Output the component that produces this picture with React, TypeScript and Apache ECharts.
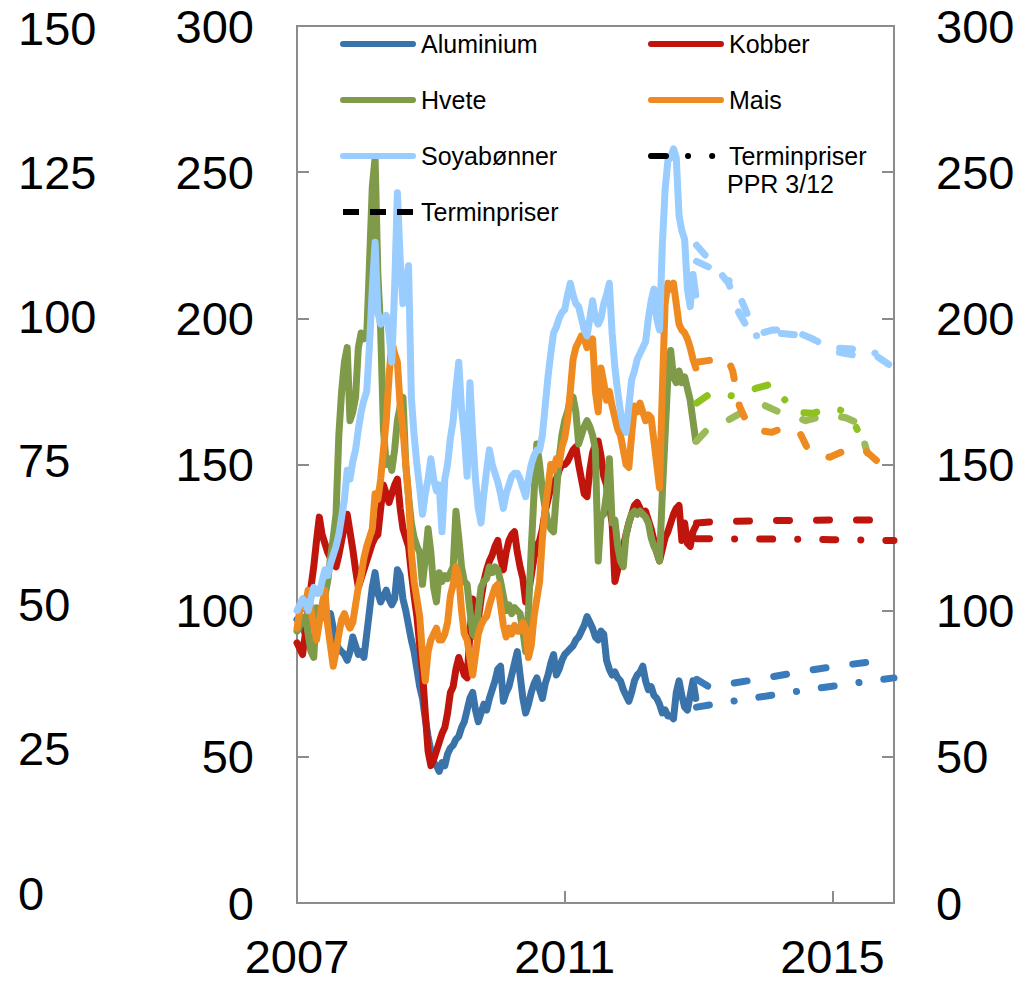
import React, { useEffect, useRef } from 'react';
import * as echarts from 'echarts';

// Half-monthly readings, Jan 2007 .. Dec 2012 (index, start = 100)
const START_YEAR = 2007;
const STEPS_PER_YEAR = 24;
const aluminium = [97, 96, 94, 92, 95, 97, 99, 100, 98, 101, 99, 96, 99, 94, 89, 87, 86, 85, 83, 86, 91, 88, 85, 86,
  84, 92, 100, 108, 113, 106, 103, 105, 107, 104, 102, 104, 114, 112, 104, 100, 95, 90, 86, 80, 74, 70, 63, 57,
  52, 48, 47, 45, 48, 47, 51, 53, 54, 56, 57, 60, 62, 66, 70, 72, 66, 62, 65, 68, 66, 70, 73, 76,
  80, 81, 69, 72, 74, 78, 82, 86, 78, 70, 65, 68, 72, 75, 77, 73, 70, 75, 78, 82, 85, 78, 80, 83,
  85, 86, 87, 88, 90, 91, 93, 95, 98, 96, 94, 91, 90, 93, 92, 83, 80, 78, 79, 77, 76, 73, 71, 69,
  72, 76, 78, 79, 81, 76, 73, 74, 71, 70, 68, 65, 66, 64, 64, 63, 72, 76, 71, 67, 66, 71, 76, 70];
const kobber = [89, 87, 85, 92, 100, 108, 115, 124, 132, 126, 123, 120, 118, 116, 115, 119, 124, 129, 133, 127, 121, 114, 108, 111,
  114, 117, 120, 123, 125, 126, 135, 143, 140, 137, 140, 143, 145, 135, 128, 125, 122, 113, 105, 98, 88, 79, 65, 52,
  47, 49, 52, 55, 58, 60, 65, 72, 74, 80, 84, 81, 78, 77, 92, 104, 100, 97, 104, 110, 114, 117, 119, 122,
  124, 118, 114, 120, 124, 126, 127, 120, 115, 111, 103, 106, 112, 118, 122, 124, 128, 134, 138, 142, 144, 145, 148, 150,
  150, 151, 153, 155, 156, 150, 145, 140, 139, 148, 154, 157, 158, 153, 146, 143, 136, 130, 110, 114, 118, 122, 126, 130,
  133, 136, 137, 135, 133, 134, 131, 128, 124, 120, 117, 121, 125, 127, 130, 133, 135, 136, 124, 130, 123, 122, 127, 129];
const hvete = [93, 95, 97, 98, 92, 86, 84, 101, 97, 100, 105, 110, 118, 125, 133, 160, 175, 185, 190, 165, 168, 173, 190, 195,
  193, 194, 219, 245, 255, 215, 196, 162, 150, 152, 148, 155, 165, 170, 173, 150, 139, 130, 125, 122, 120, 109, 118, 128,
  120, 108, 103, 113, 110, 112, 111, 113, 115, 134, 125, 115, 110, 109, 100, 92, 91, 100, 108, 110, 111, 115, 113, 115,
  114, 110, 105, 100, 102, 99, 101, 100, 99, 93, 86, 100, 121, 140, 157, 150, 141, 135, 130, 128, 127, 140, 152, 160,
  165, 168, 172, 173, 168, 157, 160, 163, 165, 163, 160, 155, 117, 132, 133, 140, 152, 130, 131, 122, 117, 115, 126, 130,
  133, 134, 133, 134, 133, 132, 130, 125, 122, 120, 117, 140, 160, 180, 189, 180, 178, 182, 178, 180, 176, 172, 165, 158];
const mais = [94, 100, 104, 102, 107, 100, 95, 90, 96, 102, 107, 95, 88, 81, 86, 92, 97, 99, 96, 94, 96, 102, 108, 112,
  118, 122, 125, 128, 140, 138, 145, 155, 165, 180, 192, 188, 185, 170, 162, 150, 139, 120, 110, 104, 98, 85, 76, 86,
  90, 92, 94, 90, 90, 92, 96, 105, 109, 115, 112, 100, 92, 90, 84, 78, 85, 92, 95, 97, 98, 102, 105, 108,
  109, 102, 95, 91, 94, 92, 95, 93, 93, 96, 94, 84, 88, 98, 104, 110, 125, 135, 142, 150, 148, 152, 150, 156,
  159, 165, 175, 186, 190, 192, 194, 193, 190, 191, 193, 175, 168, 183, 178, 172, 175, 170, 166, 162, 160, 155, 150, 149,
  160, 170, 168, 171, 168, 165, 167, 166, 158, 150, 142, 175, 205, 212, 210, 212, 205, 198, 196, 195, 193, 190, 186, 183];
const soya = [100, 102, 104, 103, 100, 104, 108, 106, 106, 110, 114, 112, 116, 119, 122, 126, 132, 138, 148, 145, 151, 155, 162, 168,
  172, 175, 191, 210, 226, 202, 198, 200, 201, 195, 185, 210, 243, 220, 205, 210, 218, 173, 160, 150, 142, 133, 140, 145,
  152, 145, 141, 143, 127, 145, 150, 159, 165, 176, 185, 169, 160, 146, 178, 160, 145, 135, 130, 140, 148, 155, 150, 147,
  144, 140, 135, 140, 143, 146, 147, 147, 145, 142, 139, 145, 150, 153, 155, 155, 160, 170, 180, 188, 195, 197, 200, 202,
  203, 208, 212, 208, 205, 204, 200, 196, 194, 200, 206, 200, 198, 200, 205, 208, 212, 195, 183, 175, 168, 163, 161, 170,
  179, 182, 186, 188, 190, 192, 200, 206, 210, 200, 196, 225, 244, 254, 255, 258, 255, 235, 230, 227, 210, 204, 215, 208];

// Futures: [year, index]
const aluTermin = [[2012.97, 76.5], [2013.15, 74], [2013.6, 75.5], [2014.0, 77], [2014.5, 79], [2015.0, 80.8], [2015.5, 82.3], [2015.75, 82.8]];
const aluPpr = [[2012.97, 67], [2013.5, 69], [2014.35, 72], [2015.1, 74.5], [2015.92, 77]];
const kobberTermin = [[2012.97, 130], [2013.3, 130.5], [2014.0, 130.8], [2015.0, 131], [2015.8, 131]];
const kobberPpr = [[2012.97, 124.6], [2014.0, 124.5], [2015.0, 124.3], [2015.92, 124]];
const hveteTermin = [[2012.97, 158], [2013.13, 162], [2013.39, 164.5], [2013.66, 168], [2013.94, 170.7], [2014.2, 168], [2014.6, 165], [2014.93, 167], [2015.2, 166], [2015.4, 164], [2015.52, 154]];
const hvetePpr = [[2012.97, 171], [2013.19, 174.5], [2013.5, 173.5], [2013.85, 176], [2014.1, 177.6], [2014.43, 168], [2014.7, 167.5], [2015.0, 169.5], [2015.25, 167.6], [2015.37, 162]];
const maisTermin = [[2012.97, 185], [2013.43, 186.5], [2013.51, 182], [2013.61, 170], [2013.69, 166], [2013.81, 162], [2014.09, 161], [2014.33, 163], [2014.51, 161], [2014.66, 154], [2014.96, 152.5], [2015.21, 155], [2015.48, 155], [2015.7, 150.5], [2015.92, 149.5]];
const soyaTermin = [[2012.97, 225], [2013.2, 219], [2013.45, 212], [2013.6, 202], [2013.8, 194], [2014.1, 196], [2014.4, 196], [2014.7, 193], [2014.95, 190], [2015.3, 189.5], [2015.6, 188], [2015.92, 183]];
const soyaPpr = [[2012.97, 219.5], [2013.25, 216.5], [2013.4, 214], [2013.55, 211], [2013.7, 203], [2013.85, 194], [2014.1, 195], [2014.4, 194.5], [2014.7, 193.5], [2014.95, 189], [2015.3, 187.5], [2015.55, 189.5], [2015.92, 183.5]];

const leftTicks = [0, 25, 50, 75, 100, 125, 150];
const yTicks = [0, 50, 100, 150, 200, 250, 300];
const xTickYears = [2007, 2011, 2015];

const FONT = 'Arial, "Liberation Sans", Helvetica, sans-serif';
const AXIS_GREY = '#8c8c8c';
const LW = 7;
const DASH = [13, 27];
const DASHDOT = [13, 25, 0.1, 25];

const hist = (vals: number[]) => vals.map((v, i) => [i / STEPS_PER_YEAR, v]);
const fut = (pts: number[][]) => pts.map(([y, v]) => [y - START_YEAR, v]);

function lineSeries(name: string, data: number[][], color: string, type: any = 'solid') {
  return {
    name,
    type: 'line',
    data,
    symbol: 'none',
    silent: true,
    lineStyle: { color, width: LW, type, cap: 'round', join: 'round' },
    itemStyle: { color },
  };
}

export default function App() {
  const ref = useRef<HTMLDivElement>(null);
  useEffect(() => {
    document.body.style.margin = '0';
    const chart = echarts.init(ref.current!, null, { renderer: 'svg' });
    const labelStyle = { fontSize: 47, color: '#000', fontFamily: FONT };
    const legendCommon = {
      top: 30, orient: 'vertical', padding: 0, itemWidth: 70, itemHeight: 28, itemGap: 28,
      textStyle: { fontSize: 25, fontFamily: FONT, color: '#000', padding: [0, 0, 0, 3], lineHeight: 28 },
      itemStyle: { opacity: 0 },
      lineStyle: { width: 6, cap: 'round' },
      selectedMode: false,
    };
    chart.setOption({
      animation: false,
      backgroundColor: '#fff',
      grid: [
        { left: 297, right: 138, top: 26, bottom: 80, show: true, borderColor: AXIS_GREY, borderWidth: 2 },
        { left: 297, right: 138, top: 28, bottom: 90, show: false },
      ],
      xAxis: [
        {
          type: 'value', gridIndex: 0, min: 0, max: 8.92, interval: 4,
          axisLine: { show: true, lineStyle: { color: AXIS_GREY, width: 2 } },
          axisTick: { show: true, inside: true, length: 12, lineStyle: { color: AXIS_GREY, width: 2 } },
          splitLine: { show: false },
          axisLabel: {
            ...labelStyle, margin: 30, showMaxLabel: false,
            formatter: (v: number) => (xTickYears.includes(START_YEAR + v) ? String(START_YEAR + v) : ''),
          },
        },
        { type: 'value', gridIndex: 1, min: 0, max: 1, show: false },
      ],
      yAxis: [
        {
          type: 'value', gridIndex: 0, position: 'left', min: yTicks[0], max: yTicks[yTicks.length - 1], interval: 50,
          axisLine: { show: true, lineStyle: { color: AXIS_GREY, width: 2 } },
          axisTick: { show: true, inside: true, length: 12, lineStyle: { color: AXIS_GREY, width: 2 } },
          splitLine: { show: false },
          axisLabel: { ...labelStyle, margin: 43 },
        },
        {
          type: 'value', gridIndex: 0, position: 'right', min: yTicks[0], max: yTicks[yTicks.length - 1], interval: 50,
          axisLine: { show: true, lineStyle: { color: AXIS_GREY, width: 2 } },
          axisTick: { show: true, inside: true, length: 12, lineStyle: { color: AXIS_GREY, width: 2 } },
          splitLine: { show: false },
          axisLabel: { ...labelStyle, margin: 42 },
        },
        {
          type: 'value', gridIndex: 1, position: 'left', min: leftTicks[0], max: leftTicks[leftTicks.length - 1], interval: 25,
          axisLine: { show: false }, axisTick: { show: false }, splitLine: { show: false },
          axisLabel: { ...labelStyle, margin: 279, align: 'left' },
        },
      ],
      legend: [
        {
          ...legendCommon, left: 340,
          data: [
            { name: 'Aluminium' }, { name: 'Hvete' }, { name: 'Soyabønner' },
            { name: 'Terminpriser', lineStyle: { color: '#000', width: 6, type: [16, 11], cap: 'butt' } },
          ],
        },
        {
          ...legendCommon, left: 648,
          formatter: (n: string) => (n === 'Terminpriser PPR 3/12' ? 'Terminpriser' : n),
          data: [
            { name: 'Kobber' }, { name: 'Mais' },
            { name: 'Terminpriser PPR 3/12', lineStyle: { color: '#000', width: 6, type: [15, 22, 0.1, 24, 0.1, 100], cap: 'round' } },
          ],
        },
      ],
      graphic: [
        { type: 'text', left: 727, top: 171, silent: true, style: { text: 'PPR 3/12', fontSize: 25, fontFamily: FONT, fill: '#000' } },
      ],
      series: [
        lineSeries('Aluminium', hist(aluminium), '#3a72aa'),
        lineSeries('Kobber', hist(kobber), '#c0150c'),
        lineSeries('Hvete', hist(hvete), '#7f9a48'),
        lineSeries('Mais', hist(mais), '#ee8a1f'),
        lineSeries('Soyabønner', hist(soya), '#99ccff'),
        lineSeries('Aluminium termin', fut(aluTermin), '#3a7bbb', DASH),
        lineSeries('Aluminium PPR', fut(aluPpr), '#3a7bbb', DASHDOT),
        lineSeries('Kobber termin', fut(kobberTermin), '#c0150c', DASH),
        lineSeries('Kobber PPR', fut(kobberPpr), '#c0150c', DASHDOT),
        lineSeries('Hvete termin', fut(hveteTermin), '#9bbb59', DASH),
        lineSeries('Hvete PPR', fut(hvetePpr), '#8dc21f', DASHDOT),
        lineSeries('Mais termin', fut(maisTermin), '#ee8a1f', DASH),
        lineSeries('Soya termin', fut(soyaTermin), '#99ccff', DASH),
        lineSeries('Soya PPR', fut(soyaPpr), '#99ccff', DASHDOT),
        { name: 'Terminpriser', type: 'line', data: [], symbol: 'none', lineStyle: { color: '#000', width: 6, type: [16, 11] }, itemStyle: { color: '#000' } },
        { name: 'Terminpriser PPR 3/12', type: 'line', data: [], symbol: 'none', lineStyle: { color: '#000', width: 6, type: [15, 22, 0.1, 24] }, itemStyle: { color: '#000' } },
      ],
    });
    return () => chart.dispose();
  }, []);
  return <div ref={ref} style={{ width: 1032, height: 983 }} />;
}
